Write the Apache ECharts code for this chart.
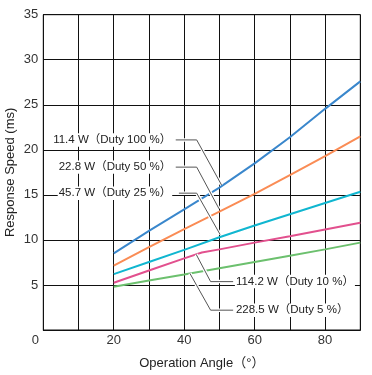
<!DOCTYPE html>
<html>
<head>
<meta charset="utf-8">
<script src="https://cdn.jsdelivr.net/npm/echarts@6/dist/echarts.min.js"></script>
<style>html,body{margin:0;padding:0;background:#fff}#c{width:372px;height:375px}</style>
</head>
<body>
<div id="c"></div>
<script>
// ---- data ----
const angles = [20, 30, 40, 50, 60, 70, 80, 90];
const duty100 = [8.5, 11.0, 13.4, 15.8, 18.5, 21.4, 24.55, 27.6];
const duty50 = [7.15, 9.2, 11.2, 13.15, 15.1, 17.2, 19.3, 21.5];
const duty25 = [6.2, 7.55, 8.9, 10.3, 11.6, 12.85, 14.1, 15.35];
const pinkAngles = [20, 30, 40, 45, 50, 60, 70, 80, 90];
const duty10 = [5.25, 6.6, 7.95, 8.6, 8.95, 9.7, 10.4, 11.15, 11.9];
const duty5 = [4.8, 5.5, 6.15, 6.85, 7.55, 8.25, 8.95, 9.7];
const yTicks = [0, 5, 10, 15, 20, 25, 30, 35];
const xTickLabels = [0, 20, 40, 60, 80];

// annotation labels with leader polylines (data coordinates)
const notes = [
  {text: '11.4 W（Duty 100 %）', at: [36.6, 21.1], align: 'right', path: [[37.6, 21.1], [43.55, 21.1], [50.6, 16.1]]},
  {text: '22.8 W（Duty 50 %）', at: [36.6, 18.08], align: 'right', path: [[37.6, 18.08], [43.55, 18.08], [49.9, 13.45]]},
  {text: '45.7 W（Duty 25 %）', at: [36.6, 15.19], align: 'right', path: [[38.5, 15.19], [43.55, 15.19], [50.2, 10.6]]},
  {text: '114.2 W（Duty 10 %）', at: [54.4, 5.37], align: 'left', path: [[43.4, 8.4], [47.5, 5.37], [53.9, 5.37]]},
  {text: '228.5 W（Duty 5 %）', at: [54.4, 2.2], align: 'left', path: [[41.6, 6.3], [47.5, 2.2], [53.9, 2.2]]}
];

const colors = ['#3a87cc', '#fa8c55', '#10b6d0', '#e2508e', '#6cc06e'];
const FONT = 'Liberation Sans, Arial, Noto Sans CJK JP, sans-serif';

function pairs(xs, ys) { return xs.map((x, i) => [x, ys[i]]); }

const chart = echarts.init(document.getElementById('c'), null, {renderer: 'canvas'});
const seriesList = [
  pairs(angles, duty100), pairs(angles, duty50), pairs(angles, duty25),
  pairs(pinkAngles, duty10), pairs(angles, duty5)
];

chart.setOption({
  animation: false,
  backgroundColor: '#fff',
  grid: {left: 43.3, right: 11.7, top: 14.7, bottom: 45, show: true, borderColor: '#111', borderWidth: 1,
         containLabel: false, outerBoundsMode: 'none'},
  xAxis: [{
    type: 'value', min: 0, max: 90, interval: 10,
    axisLine: {show: true, lineStyle: {color: '#111', width: 1}},
    axisTick: {show: false},
    splitLine: {show: true, lineStyle: {color: '#111', width: 1}},
    axisLabel: {show: false}
  }, {
    type: 'value', min: 0, max: 90, interval: 20, position: 'bottom',
    name: 'Operation Angle（°）', nameLocation: 'middle', nameGap: 27, nameMoveOverlap: false,
    nameTextStyle: {fontFamily: FONT, fontSize: 13, color: '#222'},
    axisLine: {show: false}, axisTick: {show: false}, splitLine: {show: false},
    axisLabel: {
      fontFamily: FONT, fontSize: 13, color: '#333', margin: 4, showMaxLabel: false,
      formatter: v => xTickLabels.indexOf(v) < 0 ? '' : (v === 0 ? '{z|0}' : String(v)),
      rich: {z: {fontFamily: FONT, fontSize: 13, color: '#333', padding: [0, 16, 0, 0]}}
    }
  }],
  yAxis: {
    type: 'value', min: 0, max: 35, interval: 5,
    name: 'Response Speed (ms)', nameLocation: 'middle', nameGap: 26, nameMoveOverlap: false,
    nameTextStyle: {fontFamily: FONT, fontSize: 13, color: '#222'},
    axisLine: {show: true, lineStyle: {color: '#111', width: 1}},
    axisTick: {show: false},
    splitLine: {show: true, lineStyle: {color: '#111', width: 1}},
    axisLabel: {
      fontFamily: FONT, fontSize: 13, color: '#333', margin: 5,
      formatter: v => (v === 0 || yTicks.indexOf(v) < 0) ? '' : String(v)
    }
  },
  series: seriesList.map((d, i) => ({
    type: 'line', data: d, showSymbol: false, smooth: false, xAxisIndex: 0,
    lineStyle: {color: colors[i], width: 2}, z: 3
  }))
});

const graphics = [];
notes.forEach(n => {
  const pts = n.path.map(p => chart.convertToPixel({xAxisIndex: 0, yAxisIndex: 0}, p));
  graphics.push({type: 'polyline', shape: {points: pts}, style: {stroke: '#fff', lineWidth: 3.5, fill: null}, z: 10});
  graphics.push({type: 'polyline', shape: {points: pts}, style: {stroke: '#555', lineWidth: 1, fill: null}, z: 11});
  const a = chart.convertToPixel({xAxisIndex: 0, yAxisIndex: 0}, n.at);
  graphics.push({
    type: 'text', x: a[0], y: a[1], z: 12,
    style: {
      text: n.text, fontFamily: FONT, fontSize: 11.5, fill: '#222',
      align: n.align, verticalAlign: 'middle', backgroundColor: '#fff', padding: [1, 1]
    }
  });
});
chart.setOption({graphic: graphics});
</script>
</body>
</html>
